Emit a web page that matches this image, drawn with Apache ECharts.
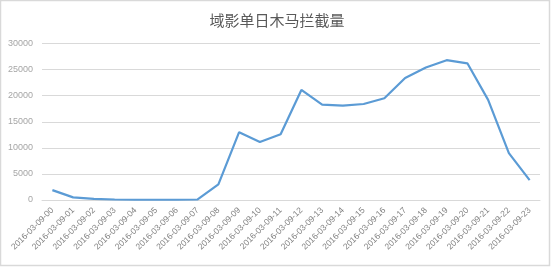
<!DOCTYPE html>
<html><head><meta charset="utf-8">
<script src="https://cdn.jsdelivr.net/npm/echarts@6/dist/echarts.min.js"></script>
<style>html,body{margin:0;padding:0;background:#fff}#c{width:554px;height:267px}</style>
</head><body><div id="c"></div>
<script>
var titleText = '域影单日木马拦截量';
var categories = ['2016-03-09-00','2016-03-09-01','2016-03-09-02','2016-03-09-03','2016-03-09-04','2016-03-09-05','2016-03-09-06','2016-03-09-07','2016-03-09-08','2016-03-09-09','2016-03-09-10','2016-03-09-11','2016-03-09-12','2016-03-09-13','2016-03-09-14','2016-03-09-15','2016-03-09-16','2016-03-09-17','2016-03-09-18','2016-03-09-19','2016-03-09-20','2016-03-09-21','2016-03-09-22','2016-03-09-23'];
var values = [1900, 500, 200, 100, 50, 50, 50, 100, 3000, 13000, 11100, 12600, 21100, 18300, 18100, 18400, 19500, 23400, 25400, 26800, 26200, 19200, 9000, 3800];
var yTicks = {min: 0, max: 30000, interval: 5000};

var chart = echarts.init(document.getElementById('c'));
chart.setOption({
  animation: false,
  backgroundColor: '#fff',
  graphic: [{type: 'rect', shape: {x: 0.5, y: 0.5, width: 549, height: 265}, style: {fill: 'none', stroke: '#d9d9d9', lineWidth: 1.5}, silent: true}],
  title: {text: titleText, left: 'center', top: 8, textStyle: {fontFamily: 'Noto Sans CJK SC', fontSize: 15, fontWeight: 'normal', color: '#595959'}},
  grid: {left: 42, right: 14, top: 43.5, bottom: 67},
  xAxis: {
    type: 'category', data: categories, boundaryGap: true,
    axisLine: {lineStyle: {color: '#d9d9d9', width: 1}},
    axisTick: {show: false},
    axisLabel: {rotate: 45, interval: 0, fontSize: 8.5, color: '#7f7f7f', fontFamily: 'Liberation Sans', margin: 9}
  },
  yAxis: {
    type: 'value', min: yTicks.min, max: yTicks.max, interval: yTicks.interval,
    axisLine: {show: false}, axisTick: {show: false},
    splitLine: {lineStyle: {color: '#d9d9d9', width: 1}},
    axisLabel: {fontSize: 9, color: '#a6a6a6', fontFamily: 'Liberation Sans', margin: 9, formatter: function (v) { return String(v); }}
  },
  series: [{type: 'line', data: values, symbol: 'none', lineStyle: {color: '#5b9bd5', width: 2.2}}]
});
</script></body></html>
